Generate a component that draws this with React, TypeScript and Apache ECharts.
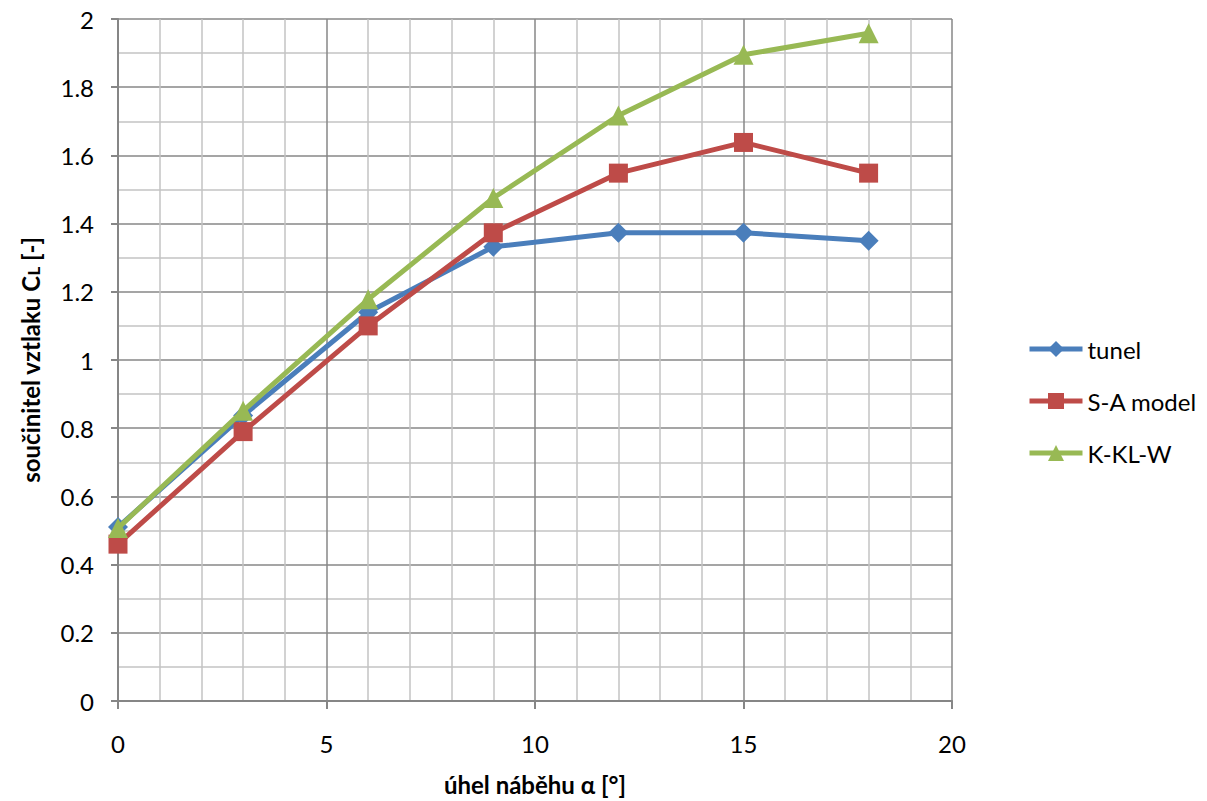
import React, { useEffect, useRef } from "react";
import * as echarts from "echarts";

const angles = [0, 3, 6, 9, 12, 15, 18];
const tunel = [0.51, 0.837, 1.14, 1.332, 1.373, 1.373, 1.35];
const saModel = [0.46, 0.79, 1.1, 1.373, 1.548, 1.638, 1.548];
const kklw = [0.507, 0.851, 1.178, 1.475, 1.717, 1.895, 1.958];
const seriesNames = ["tunel", "S-A model", "K-KL-W"];

const FONT = "Lato, 'Open Sans', sans-serif";

export default function App() {
  const ref = useRef<HTMLDivElement>(null);
  useEffect(() => {
    const chart = echarts.init(ref.current!, null, { renderer: "svg" });
    const mk = (vals: number[]) => angles.map((a, i) => [a, vals[i]]);
    chart.setOption({
      animation: false,
      backgroundColor: "#ffffff",
      grid: { left: 118, top: 19, right: 255, bottom: 99, containLabel: false },
      legend: {
        orient: "vertical",
        left: 1027,
        top: 337,
        padding: 0,
        itemWidth: 53,
        itemHeight: 20,
        itemGap: 28,
        lineStyle: { width: 5 },
        textStyle: { fontFamily: FONT, fontSize: 24, color: "#000" },
        data: seriesNames,
      },
      xAxis: {
        type: "value",
        min: 0,
        max: 20,
        interval: 5,
        name: "úhel náběhu α [°]",
        nameLocation: "middle",
        nameGap: 71,
        nameTextStyle: { fontFamily: FONT, fontSize: 24, fontWeight: "bold", color: "#000" },
        axisLine: { show: true, onZero: false, lineStyle: { color: "#868686", width: 2 } },
        axisTick: { show: true, length: 8, lineStyle: { color: "#868686", width: 2 } },
        axisLabel: { fontFamily: FONT, fontSize: 24, color: "#000", margin: 30 },
        splitLine: { show: true, lineStyle: { color: "#878787", width: 1.5 } },
        minorTick: { show: false, splitNumber: 5 },
        minorSplitLine: { show: true, lineStyle: { color: "#c3c3c3", width: 1.5 } },
      },
      yAxis: {
        type: "value",
        min: 0,
        max: 2,
        interval: 0.2,
        name: "součinitel vztlaku C{sub|L} [-]",
        nameLocation: "middle",
        nameGap: 76,
        nameRotate: 90,
        nameTextStyle: {
          fontFamily: FONT,
          fontSize: 24,
          fontWeight: "bold",
          color: "#000",
          rich: {
            sub: { fontFamily: FONT, fontSize: 17, fontWeight: "bold", color: "#000", verticalAlign: "bottom", padding: [6, 0, 0, 0] },
          },
        },
        axisLine: { show: true, lineStyle: { color: "#868686", width: 2 } },
        axisTick: { show: true, length: 7, lineStyle: { color: "#868686", width: 2 } },
        axisLabel: {
          fontFamily: FONT,
          fontSize: 24,
          color: "#000",
          margin: 24,
          formatter: (v: number) => String(Math.round(v * 10) / 10),
        },
        splitLine: { show: true, lineStyle: { color: "#878787", width: 1.5 } },
        minorTick: { show: false, splitNumber: 2 },
        minorSplitLine: { show: true, lineStyle: { color: "#c3c3c3", width: 1.5 } },
      },
      series: [
        {
          name: seriesNames[0],
          type: "line",
          data: mk(tunel),
          symbol: "diamond",
          symbolSize: 20,
          lineStyle: { color: "#4a7ebb", width: 5 },
          itemStyle: { color: "#4a7ebb" },
          z: 3,
        },
        {
          name: seriesNames[1],
          type: "line",
          data: mk(saModel),
          symbol: "rect",
          symbolSize: 19,
          lineStyle: { color: "#be4b48", width: 5 },
          itemStyle: { color: "#be4b48" },
          z: 4,
        },
        {
          name: seriesNames[2],
          type: "line",
          data: mk(kklw),
          symbol: "triangle",
          symbolSize: 20,
          lineStyle: { color: "#98b954", width: 5 },
          itemStyle: { color: "#98b954" },
          z: 5,
        },
      ],
    });
    return () => chart.dispose();
  }, []);
  return <div ref={ref} style={{ width: 1207, height: 801, position: "absolute", left: 0, top: 0 }} />;
}
